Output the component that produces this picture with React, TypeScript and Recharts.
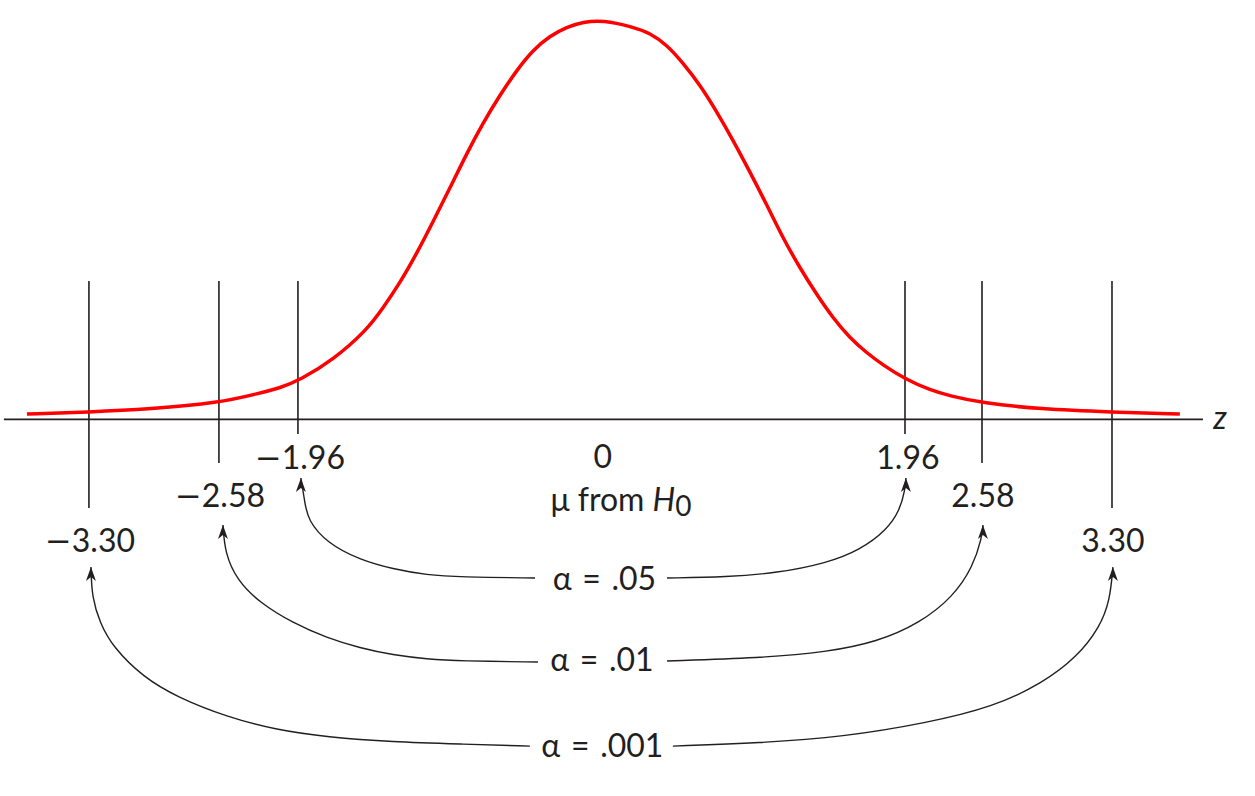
import { ComposedChart, Line, XAxis, YAxis, ReferenceLine, ReferenceDot } from 'recharts';

// Normal curve (x in z units as drawn, y in density units)
const curveZ = [
  -3.711, -3.311, -2.917, -2.472, -2.207, -2.078, -1.949, -1.736, -1.517, -1.413, -1.304, -1.194,
  -1.091, -0.981, -0.871, -0.768, -0.658, -0.549, -0.445, -0.336, -0.226, -0.123, 0.006, 0.2, 0.31,
  0.42, 0.523, 0.633, 0.742, 0.845, 0.955, 1.065, 1.168, 1.278, 1.388, 1.491, 1.601, 1.71, 1.814,
  1.956, 2.117, 2.246, 2.453, 2.827, 3.292, 3.73,
];
const curveY = [
  0.0054, 0.0074, 0.0104, 0.0165, 0.0265, 0.0315, 0.0395, 0.0596, 0.0897, 0.1118, 0.1369, 0.167,
  0.1982, 0.2323, 0.2674, 0.2975, 0.3256, 0.3507, 0.3708, 0.3849, 0.3939, 0.3989, 0.4009, 0.3939,
  0.3879, 0.3758, 0.3578, 0.3357, 0.3086, 0.2805, 0.2484, 0.2152, 0.1821, 0.152, 0.1249, 0.1018,
  0.0817, 0.0667, 0.0546, 0.0406, 0.0295, 0.0235, 0.0165, 0.0104, 0.0074, 0.0054,
];

// critical value lines (drawn positions)
const criticalZ = [-3.311, -2.472, -1.962, 1.956, 2.453, 3.292];
const criticalBottom = [-0.0889, -0.0438, -0.0147, -0.0147, -0.0438, -0.0889];
const criticalTop = 0.1389;

const tickLabels = ['\u22123.30', '\u22122.58', '\u22121.96', '0', '1.96', '2.58', '3.30'];
const tickLabelZ = [-3.304, -2.465, -1.949, 0.006, 1.975, 2.459, 3.298];
const tickLabelY = [-0.1211, -0.0759, -0.0387, -0.0367, -0.0387, -0.0759, -0.1211];

const alphaLabels = ['\u03b1\u2004=\u2004.05', '\u03b1\u2004=\u2004.01', '\u03b1\u2004=\u2004.001'];
const alphaZ = [0.016, 0, 0.003];
const alphaY = [-0.1592, -0.2405, -0.3268];

// arrow arcs, left half (tip first) and right half (tip last)
const arc05LeftZ = [-1.943, -1.917, -1.898, -1.775, -1.562, -1.349, -1.129, -0.916, -0.432];
const arc05LeftY = [-0.0588, -0.0837, -0.101, -0.1241, -0.1411, -0.1502, -0.1562, -0.1582, -0.1592];
const arc05RightZ = [0.42, 0.807, 1.129, 1.452, 1.665, 1.839, 1.923, 1.956, 1.962];
const arc05RightY = [-0.1592, -0.1582, -0.1542, -0.1442, -0.1311, -0.111, -0.091, -0.0709, -0.0588];

const arc01LeftZ = [-2.446, -2.433, -2.356, -2.207, -1.994, -1.775, -1.562, -1.349, -1.129, -0.916, -0.413];
const arc01LeftY = [-0.106, -0.1341, -0.1612, -0.1843, -0.2044, -0.2194, -0.2295, -0.2365, -0.2405, -0.2425, -0.2435];
const arc01RightZ = [0.42, 1.02, 1.452, 1.775, 2.052, 2.265, 2.394, 2.453, 2.459];
const arc01RightY = [-0.2425, -0.2395, -0.2335, -0.2234, -0.2044, -0.1783, -0.1482, -0.1181, -0.106];

const arc001LeftZ = [-3.298, -3.292, -3.24, -3.156, -2.962, -2.743, -2.42, -2.098, -1.775, -1.349, -0.916, -0.465];
const arc001LeftY = [-0.1482, -0.1783, -0.2044, -0.2285, -0.2586, -0.2787, -0.2987, -0.3118, -0.3188, -0.3238, -0.3258, -0.3279];
const arc001RightZ = [0.458, 1.02, 1.555, 2.098, 2.524, 2.846, 3.066, 3.214, 3.279, 3.298];
const arc001RightY = [-0.3279, -0.3248, -0.3188, -0.3047, -0.2887, -0.2646, -0.2385, -0.2084, -0.1813, -0.1482];

const INK = '#231f20';
const FONT = 'Lato, "DejaVu Sans", sans-serif';

const zip = (zs: number[], ys: number[]) => zs.map((z, i) => ({ z, y: ys[i] }));

const arcs = [
  { key: 'a05l', data: zip(arc05LeftZ, arc05LeftY), tip: 0 },
  { key: 'a05r', data: zip(arc05RightZ, arc05RightY), tip: arc05RightZ.length - 1 },
  { key: 'a01l', data: zip(arc01LeftZ, arc01LeftY), tip: 0 },
  { key: 'a01r', data: zip(arc01RightZ, arc01RightY), tip: arc01RightZ.length - 1 },
  { key: 'a001l', data: zip(arc001LeftZ, arc001LeftY), tip: 0 },
  { key: 'a001r', data: zip(arc001RightZ, arc001RightY), tip: arc001RightZ.length - 1 },
];

function ArrowTip({ cx, cy }: { cx: number; cy: number }) {
  return <path d={`M${cx},${cy} L${cx + 5},${cy + 14} L${cx},${cy + 10} L${cx - 5},${cy + 14} Z`} fill={INK} />;
}

// a leading minus sign gets the wider DejaVu glyph, like the original typesetting
function withMinus(t: string) {
  if (!t.startsWith('\u2212')) return t;
  return (
    <>
      <tspan fontFamily="DejaVu Sans">{'\u2212'}</tspan>
      <tspan>{t.slice(1)}</tspan>
    </>
  );
}

function textAt(content: React.ReactNode, opts: { italic?: boolean; dy?: string } = {}) {
  return (props: any) => (
    <text
      x={props.cx}
      y={props.cy}
      dy={opts.dy ?? '0.36em'}
      textAnchor="middle"
      fontFamily={FONT}
      fontSize={32}
      fontStyle={opts.italic ? 'italic' : 'normal'}
      fill={INK}
    >
      {content}
    </text>
  );
}

export default function App() {
  const curve = zip(curveZ, curveY);
  return (
    <div style={{ width: 1255, height: 796, background: '#fff' }}>
      <style>{'body{margin:0}'}</style>
      <ComposedChart width={1255} height={796} margin={{ top: 0, right: 0, bottom: 0, left: 0 }}>
        <XAxis type="number" dataKey="z" domain={[-3.885, 4.215]} hide allowDataOverflow />
        <YAxis type="number" dataKey="y" domain={[-0.378, 0.421]} hide allowDataOverflow />

        <ReferenceLine
          segment={[{ x: -3.86, y: 0 }, { x: 3.879, y: 0 }]}
          stroke={INK}
          strokeWidth={1.6}
        />
        {criticalZ.map((z, i) => (
          <ReferenceLine
            key={`c${i}`}
            segment={[{ x: z, y: criticalTop }, { x: z, y: criticalBottom[i] }]}
            stroke={INK}
            strokeWidth={1.6}
          />
        ))}

        <Line
          data={curve}
          dataKey="y"
          type="basis"
          stroke="#ff0000"
          strokeWidth={3.5}
          dot={false}
          activeDot={false}
          isAnimationActive={false}
        />

        {arcs.map((a) => (
          <Line
            key={a.key}
            data={a.data}
            dataKey="y"
            type="basis"
            stroke={INK}
            strokeWidth={1.4}
            isAnimationActive={false}
            activeDot={false}
            dot={(p: any) =>
              p.index === a.tip ? (
                <ArrowTip key={`${a.key}-tip`} cx={p.cx} cy={p.cy} />
              ) : (
                <g key={`${a.key}-${p.index}`} />
              )
            }
          />
        ))}

        {tickLabels.map((t, i) => (
          <ReferenceDot key={`t${i}`} x={tickLabelZ[i]} y={tickLabelY[i]} r={0} shape={textAt(withMinus(t))} />
        ))}

        <ReferenceDot
          x={0.123}
          y={-0.0799}
          r={0}
          shape={textAt(
            <>
              <tspan>{'\u03bc from '}</tspan>
              <tspan fontStyle="italic">H</tspan>
              <tspan dy={5} fontSize={28}>0</tspan>
            </>
          )}
        />
        <ReferenceDot x={3.989} y={-0.0016} r={0} shape={textAt('z', { italic: true, dy: '0.26em' })} />

        {alphaLabels.map((t, i) => (
          <ReferenceDot key={`a${i}`} x={alphaZ[i]} y={alphaY[i]} r={0} shape={textAt(t)} />
        ))}
      </ComposedChart>
    </div>
  );
}
